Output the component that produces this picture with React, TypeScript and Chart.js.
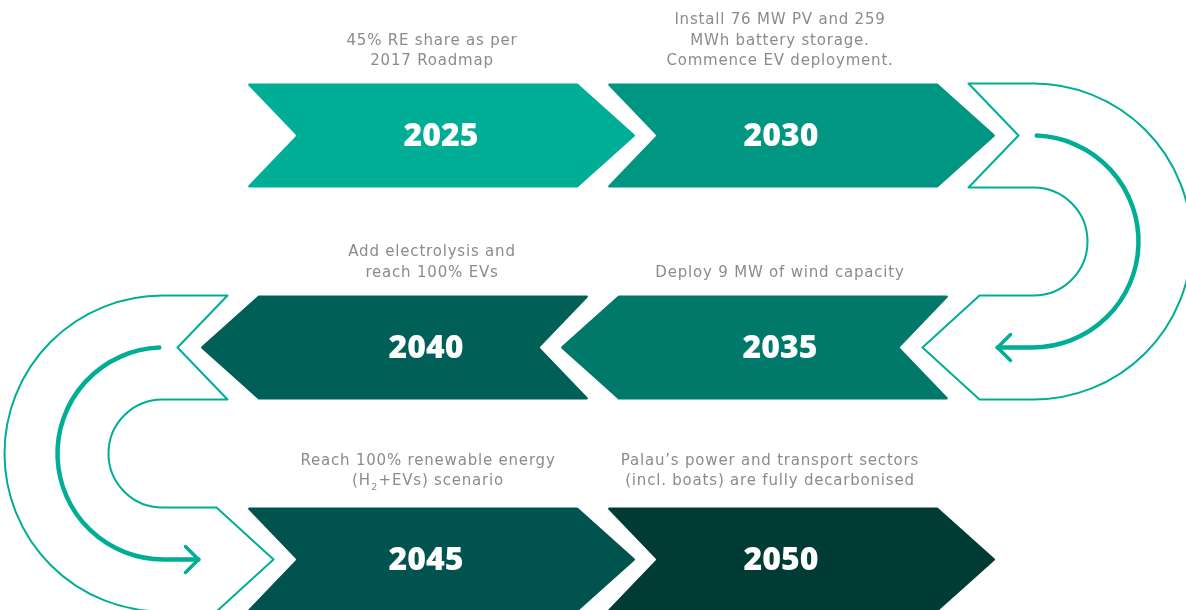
import { useEffect, useRef } from 'react';
import { Chart, registerables } from 'chart.js';

Chart.register(...registerables);

// ---------------- DATA ----------------
const years = ['2025', '2030', '2035', '2040', '2045', '2050'];
const descriptions = [
  ['45% RE share as per', '2017 Roadmap'],
  ['Install 76 MW PV and 259', 'MWh battery storage.', 'Commence EV deployment.'],
  ['Deploy 9 MW of wind capacity'],
  ['Add electrolysis and', 'reach 100% EVs'],
  ['Reach 100% renewable energy', '(H₂+EVs) scenario'],
  ['Palau’s power and transport sectors', '(incl. boats) are fully decarbonised'],
];
const stageRow = [0, 0, 1, 1, 2, 2];
const stageCol = [0, 1, 1, 0, 0, 1];
const stageDirection = ['right', 'right', 'left', 'left', 'right', 'right'];
const loopFromRow = [0, 1];
const loopSide = ['right', 'left'];

// ---------------- STYLE / LAYOUT ----------------
const stageColors = ['#00ae96', '#009681', '#00796b', '#006058', '#00534e', '#003b36'];
const LINE_COLOR = '#00ae96';
const TEXT_COLOR = '#8b8b8b';
const ROW_SHIFT = [0, -46, 0];
const YEAR_DX = [0, -20, 25, 31, -15, -20];
const DESC_DX = [-9, -21, -21, -9, -13, -31];
const DESC_GAP = [22, 22.5, 26];
const CHEV_W = 389;
const CHEV_H = 104;
const TIP = 58;
const NOTCH = 50;
const LOOP_GAP = 38;
const DESC_FONT = '400 15px "DejaVu Sans"';
const SUB_FONT = '400 9.5px "DejaVu Sans"';
const DESC_SPACING = '0.8px';
const YEAR_FONT = '800 32px "Open Sans"';
const LINE_H = 20.5;

function roundedPoly(ctx: CanvasRenderingContext2D, pts: number[][], r: number) {
  const n = pts.length;
  ctx.beginPath();
  for (let i = 0; i < n; i++) {
    const p0 = pts[(i - 1 + n) % n];
    const p1 = pts[i];
    const p2 = pts[(i + 1) % n];
    const mx = (p0[0] + p1[0]) / 2;
    const my = (p0[1] + p1[1]) / 2;
    if (i === 0) ctx.moveTo(mx, my);
    ctx.arcTo(p1[0], p1[1], (p1[0] + p2[0]) / 2, (p1[1] + p2[1]) / 2, r);
  }
  ctx.closePath();
}

function drawRichLine(ctx: CanvasRenderingContext2D, text: string, x: number, y: number) {
  const parts = text.split('₂');
  const c: any = ctx;
  c.letterSpacing = DESC_SPACING;
  let total = 0;
  const widths: number[] = [];
  parts.forEach((p, i) => {
    ctx.font = DESC_FONT;
    const w = ctx.measureText(p).width;
    widths.push(w);
    total += w;
    if (i < parts.length - 1) {
      ctx.font = SUB_FONT;
      total += ctx.measureText('2').width + 1;
    }
  });
  let cx = x - total / 2;
  ctx.textAlign = 'left';
  ctx.textBaseline = 'middle';
  parts.forEach((p, i) => {
    ctx.font = DESC_FONT;
    ctx.fillText(p, cx, y);
    cx += widths[i];
    if (i < parts.length - 1) {
      ctx.font = SUB_FONT;
      ctx.fillText('2', cx + 0.5, y + 6);
      cx += ctx.measureText('2').width + 1;
    }
  });
  c.letterSpacing = '0px';
}

const roadmapPlugin = {
  id: 'roadmap',
  afterDatasetsDraw(chart: any) {
    const ctx: CanvasRenderingContext2D = chart.ctx;
    const xs = chart.scales.x;
    const ys = chart.scales.y;
    const h2 = CHEV_H / 2;
    ctx.save();

    const centers: number[][] = [];
    years.forEach((year, i) => {
      const row = stageRow[i];
      const cx = xs.getPixelForValue(stageCol[i]) + ROW_SHIFT[row];
      const cy = ys.getPixelForValue(row);
      centers.push([cx, cy]);
      const L = cx - CHEV_W / 2;
      const R = cx + CHEV_W / 2;
      const top = cy - h2;
      const bot = cy + h2;
      let pts: number[][];
      if (stageDirection[i] === 'right') {
        pts = [[L, top], [R - TIP, top], [R, cy], [R - TIP, bot], [L, bot], [L + NOTCH, cy]];
      } else {
        pts = [[L, cy], [L + TIP, top], [R, top], [R - NOTCH, cy], [R, bot], [L + TIP, bot]];
      }
      ctx.fillStyle = stageColors[i];
      roundedPoly(ctx, pts, 1.2);
      ctx.fill();

      ctx.fillStyle = '#ffffff';
      ctx.font = YEAR_FONT;
      ctx.textAlign = 'center';
      ctx.textBaseline = 'middle';
      ctx.fillText(year, cx + YEAR_DX[i], cy + 1);

      ctx.fillStyle = TEXT_COLOR;
      const lines = descriptions[i];
      const lastY = top - DESC_GAP[row];
      lines.forEach((ln, k) => {
        const y = lastY - (lines.length - 1 - k) * LINE_H;
        drawRichLine(ctx, ln, xs.getPixelForValue(stageCol[i]) + DESC_DX[i], y);
      });
    });

    loopFromRow.forEach((r0, li) => {
      const s = loopSide[li] === 'right' ? 1 : -1;
      const r1 = r0 + 1;
      const y0 = ys.getPixelForValue(r0);
      const y1 = ys.getPixelForValue(r1);
      let edge = s > 0 ? -Infinity : Infinity;
      years.forEach((_, i) => {
        if (stageRow[i] !== r0) return;
        const c = centers[i][0];
        edge = s > 0 ? Math.max(edge, c + CHEV_W / 2) : Math.min(edge, c - CHEV_W / 2);
      });
      const cx = edge + s * LOOP_GAP;
      const cy = (y0 + y1) / 2;
      const Rout = (y1 + h2 - (y0 - h2)) / 2;
      const Rin = (y1 - h2 - (y0 + h2)) / 2;
      ctx.strokeStyle = LINE_COLOR;
      ctx.lineWidth = 2;
      ctx.lineJoin = 'round';
      ctx.beginPath();
      ctx.moveTo(cx - s * 65, y0 - h2);
      ctx.lineTo(cx, y0 - h2);
      ctx.arc(cx, cy, Rout, -Math.PI / 2, Math.PI / 2, s < 0);
      ctx.lineTo(cx - s * 54, y1 + h2);
      ctx.lineTo(cx - s * 111, y1);
      ctx.lineTo(cx - s * 54, y1 - h2);
      ctx.lineTo(cx, y1 - h2);
      ctx.arc(cx, cy, Rin, Math.PI / 2, -Math.PI / 2, s > 0);
      ctx.lineTo(cx - s * 65, y0 + h2);
      ctx.lineTo(cx - s * 15, y0);
      ctx.closePath();
      ctx.stroke();

      const rm = (Rout + Rin) / 2;
      const acx = cx - s * 1;
      ctx.lineWidth = 4.5;
      ctx.lineCap = 'round';
      ctx.beginPath();
      const a0 = -Math.PI / 2 + s * 0.04;
      ctx.arc(acx, cy, rm, a0, Math.PI / 2, s < 0);
      const tipX = acx - s * 35;
      const tipY = cy + rm;
      ctx.lineTo(tipX, tipY);
      ctx.stroke();
      ctx.lineWidth = 3.5;
      ctx.beginPath();
      ctx.moveTo(tipX + s * 13, tipY - 13);
      ctx.lineTo(tipX, tipY);
      ctx.lineTo(tipX + s * 13, tipY + 13);
      ctx.stroke();
    });

    ctx.restore();
  },
};

export default function App() {
  const ref = useRef<HTMLCanvasElement | null>(null);
  useEffect(() => {
    if (!ref.current) return;
    const chart = new Chart(ref.current, {
      type: 'scatter',
      data: {
        datasets: [
          {
            label: 'Roadmap',
            data: years.map((_, i) => ({ x: stageCol[i], y: stageRow[i] })),
            pointRadius: 0,
            showLine: false,
          },
        ],
      },
      options: {
        responsive: false,
        animation: false,
        events: [],
        layout: { padding: 0 },
        plugins: { legend: { display: false }, tooltip: { enabled: false }, title: { display: false } },
        scales: {
          x: { type: 'linear', display: false, min: -441 / 360, max: -441 / 360 + 1186 / 360 },
          y: { type: 'linear', display: false, reverse: true, min: -135.5 / 212, max: -135.5 / 212 + 610 / 212 },
        },
      },
      plugins: [roadmapPlugin],
    });
    return () => chart.destroy();
  }, []);
  return (
    <div style={{ position: 'fixed', left: 0, top: 0, width: 1186, height: 610, background: '#fff' }}>
      <canvas ref={ref} width={1186} height={610} style={{ display: 'block' }} />
    </div>
  );
}
